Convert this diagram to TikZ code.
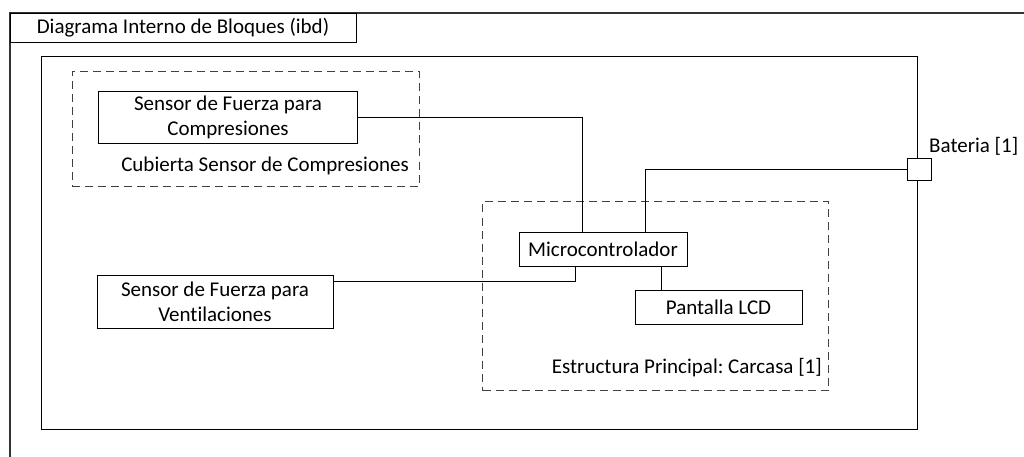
\documentclass[tikz,border=0pt]{standalone}
\usepackage{fontspec}
\setmainfont{Carlito}[Ligatures={NoCommon}]
\usetikzlibrary{calc}
\frenchspacing
\begin{document}
\begin{tikzpicture}[x=1pt,y=-1pt,
  every node/.style={font=\fontsize{21}{25}\selectfont, inner sep=0pt},
  block/.style={draw, line width=0.9pt, align=center},
  part/.style={draw=black!75, line width=0.9pt, dash pattern=on 8pt off 5pt},
  wire/.style={line width=0.9pt}]
\useasboundingbox (0,0) rectangle (1024,457);
% diagram frame with its name tab
\draw[line width=1.2pt, black!80] (10,457) -- (10,13) -- (1024,13);
\node[draw, line width=0.9pt, minimum width=346pt, minimum height=29pt] (tab) at (183,27.5) {Diagrama Interno de Bloques (ibd)};
% enclosing system block
\node[draw, line width=1pt, minimum width=876pt, minimum height=372pt] (sys) at (479,243) {};
% dashed part boundaries
\node[part, minimum width=347pt, minimum height=115pt] (cub) at (245.5,129) {};
\node[anchor=east] (cubl) at (409,166) {Cubierta Sensor de Compresiones};
\node[part, minimum width=346pt, minimum height=189pt] (est) at (655.5,296) {};
\node[anchor=east] (estl) at (822,368) {Estructura Principal: Carcasa [1]};
% blocks
\node[block, minimum width=259pt, minimum height=52pt] (sc) at (228,117) {Sensor de Fuerza para\\Compresiones};
\node[block, minimum width=236pt, minimum height=53pt] (sv) at (215,301.5) {Sensor de Fuerza para\\Ventilaciones};
\node[block, minimum width=168pt, minimum height=34pt] (mc) at (603,249) {Microcontrolador};
\node[block, minimum width=167pt, minimum height=34pt] (lcd) at (718.5,307) {Pantalla LCD};
% battery port on the system boundary
\node[draw, fill=white, line width=0.9pt, minimum width=24pt, minimum height=22pt] (bat) at (919,169) {};
\node[anchor=west] (batl) at (929,146) {Bateria [1]};
% connectors
\draw[wire] (sc.east) -| ([xshift=-21pt]mc.north);
\draw[wire] ([xshift=42pt]mc.north) |- (bat.west);
\draw[wire] ([xshift=-28pt]mc.south) |- ([yshift=20.5pt]sv.east);
\draw[wire] ([xshift=58pt]mc.south) -- ([xshift=58pt]mc.south |- lcd.north);
\end{tikzpicture}
\end{document}
